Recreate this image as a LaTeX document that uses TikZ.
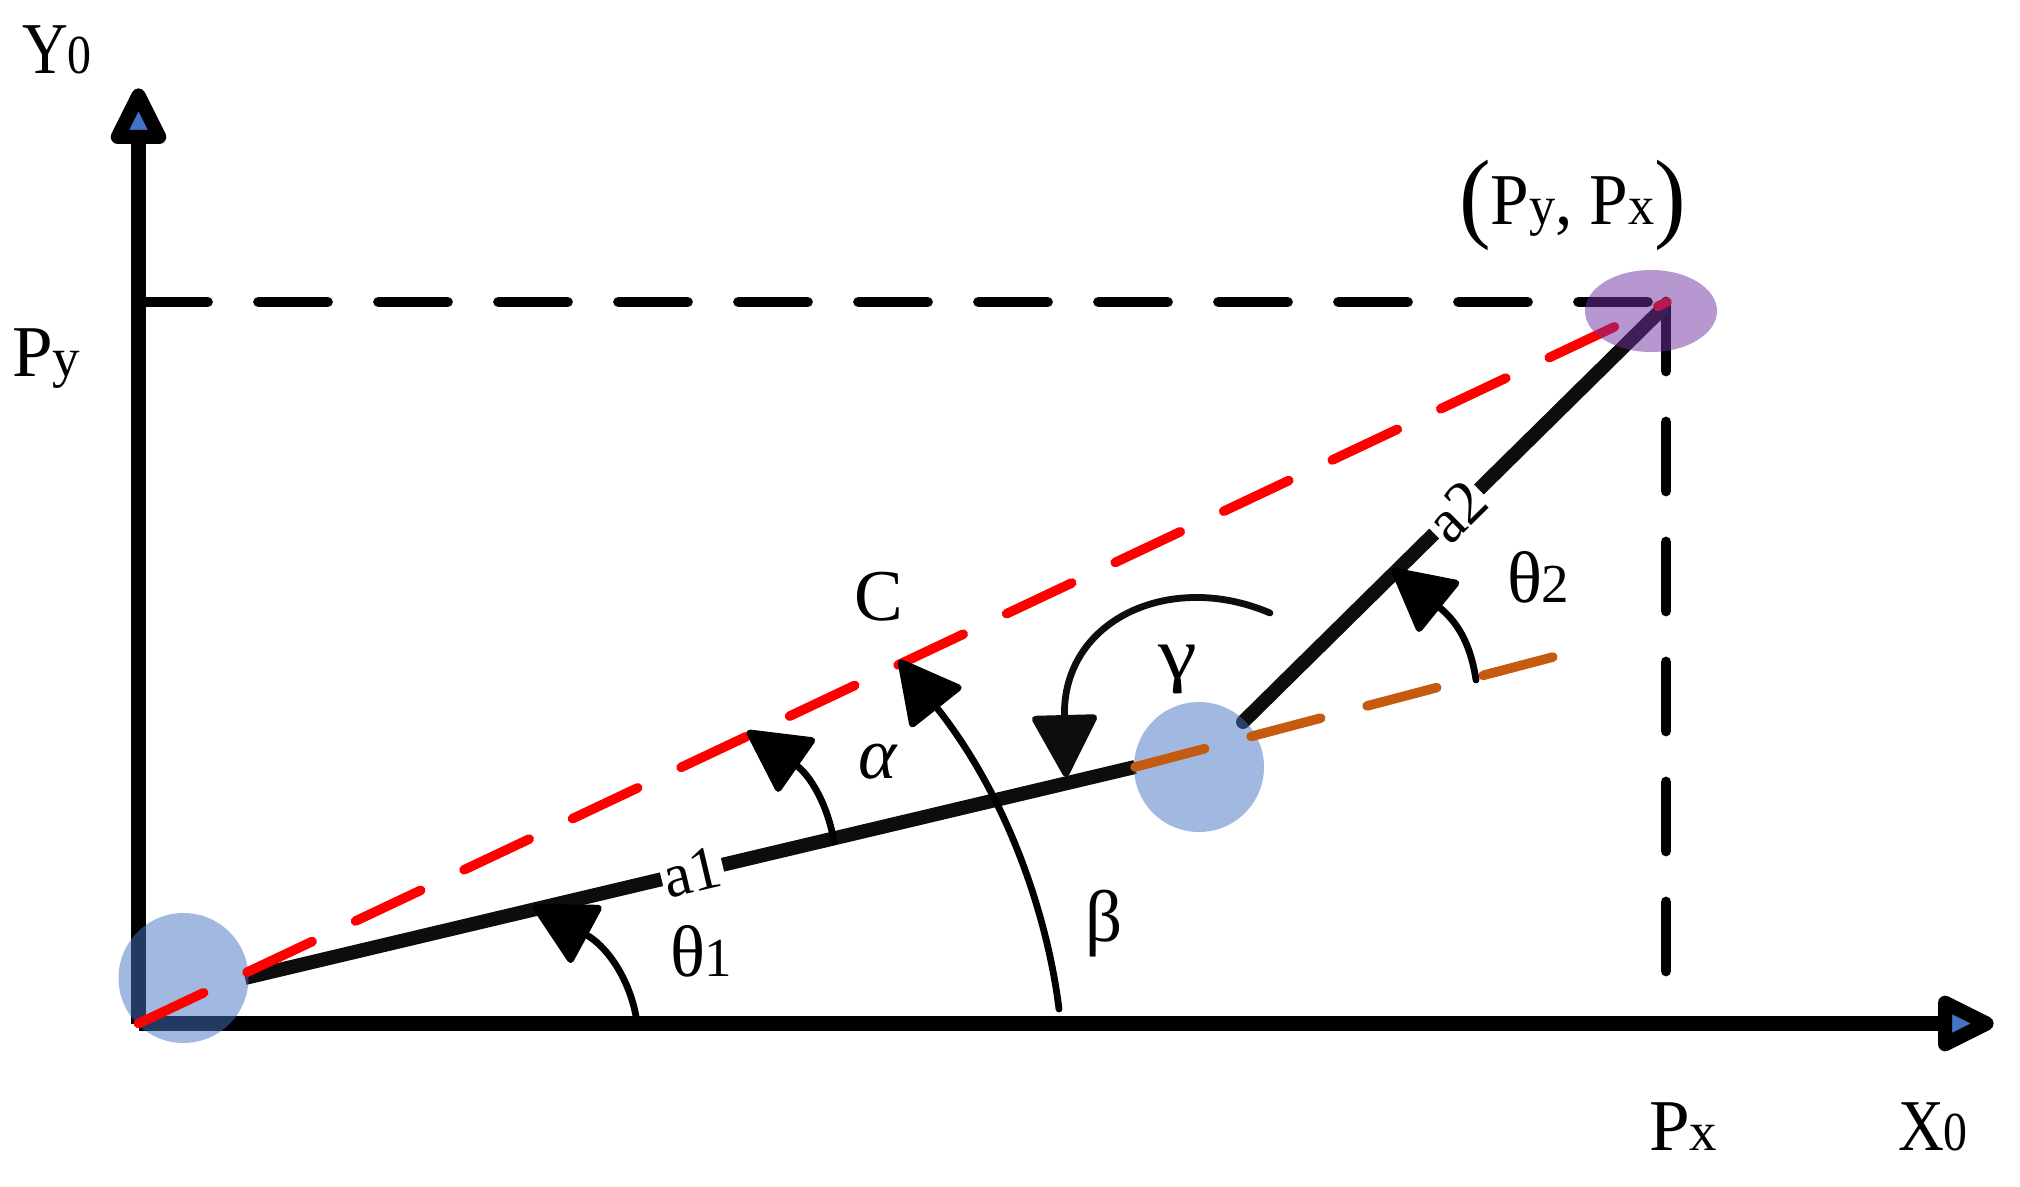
\documentclass[tikz,border=0pt]{standalone}
\usepackage{fontspec}
\setmainfont{Liberation Serif}
\newfontfamily\narrowfam[FakeStretch=0.87]{Liberation Serif}
\newfontfamily\pairfam[FakeStretch=0.95]{Liberation Serif}
\newfontfamily\widefam[FakeStretch=1.2]{Liberation Serif}
\usetikzlibrary{arrows}
\usetikzlibrary{arrows.meta}
\definecolor{jointblue}{HTML}{4472C4}
\definecolor{jointpurple}{HTML}{7030A0}
\definecolor{armblack}{HTML}{0D0D0D}
\definecolor{elbowline}{HTML}{C55A11}
\newcommand{\bigfont}{\fontsize{36.5}{40}\selectfont}
\newcommand{\smallfont}{\fontsize{27.5}{30}\selectfont}
\newcommand{\parenfont}{\fontsize{50}{50}\selectfont}
\newcommand{\lab}[2]{{\bigfont #1}{\smallfont #2}}
\tikzset{
  axisline/.style={line width=7.2pt,line cap=butt},
  axishead/.style={line width=7pt,fill=jointblue},
  arm/.style={line width=7pt,color=armblack},
  joint/.style={fill=jointblue,fill opacity=0.5},
  target/.style={fill=jointpurple,fill opacity=0.5},
  reachline/.style={line width=4.8pt,color=red,dash pattern=on 36pt off 24pt},
  elbowdash/.style={line width=4.8pt,color=elbowline,dash pattern=on 36pt off 24pt},
  guide/.style={line width=5.4pt,color=black,dash pattern=on 34.5pt off 25.5pt},
  anglearc/.style={line width=3.4pt,color=black,-{Triangle[length=33pt,width=34pt,round]}},
  lbl/.style={anchor=base west,inner sep=0pt,outer sep=0pt},
  armlbl/.style={fill=white,inner sep=1pt,font=\fontsize{31}{32}\selectfont}
}
\begin{document}
\begin{tikzpicture}[line cap=round,line join=round,>={Stealth},x=0.5pt,y=-0.5pt]
\useasboundingbox (0,0) rectangle (2020,1187);
\coordinate (O) at (138.5,1023.5);
\coordinate (Ytop) at (138.5,137);
\coordinate (Xtip) at (1945,1023.5);
\coordinate (shoulderEnd) at (245,978);
\coordinate (elbowStart) at (1135,767);
\coordinate (wristStart) at (1243,722);
\coordinate (P) at (1661,310);
\coordinate (Pcorner) at (1666,302);
\coordinate (Pleft) at (138.5,302);
\coordinate (Pfoot) at (1666,975);
\coordinate (elbowEnd) at (1553,657);
\coordinate (reachEnd) at (1667,302);
\coordinate (shoulder) at (183.5,978);
\coordinate (elbow) at (1199,767);
\coordinate (target) at (1651,311);
\draw [guide] (Pleft)-- (Pcorner);
\draw [guide] (Pcorner)-- (Pfoot);
\draw [axisline] (O)-- (Ytop);
\draw [axisline] (O)-- (Xtip);
\draw [axishead] (138.5,95.4)-- (159.3,137)-- (117.7,137)-- cycle;
\draw [axishead] (1986.6,1023.5)-- (1945,1002.7)-- (1945,1044.3)-- cycle;
\draw [arm,line cap=butt] (shoulderEnd)-- (elbowStart);
\draw [arm] (wristStart)-- (P);
\fill [joint] (shoulder) circle (65);
\fill [joint] (elbow) circle (65);
\draw [reachline] (O)-- (reachEnd);
\draw [elbowdash] (elbowStart)-- (elbowEnd);
\fill [target] (target) ellipse (66 and 41);
\node [armlbl,rotate=13.3] (a1) at (692,872) {a1};
\node [armlbl,rotate=44.6] (a2) at (1457,512) {a2};
\draw [anglearc] (636,1016) .. controls (628,975) and (605,945) .. (533,906);
\draw [anglearc] (834,842) .. controls (828,805) and (810,775) .. (747,731);
\draw [anglearc] (1059,1009) .. controls (1048,920) and (1010,800) .. (899,660);
\draw [anglearc] (1476,680) .. controls (1470,640) and (1455,620) .. (1392,569);
\draw [anglearc,color=armblack] (1270,613) .. controls (1170,570) and (1062,620) .. (1066,777);
\node [lbl] (Y0) at (22,74) {\narrowfam\lab{Y}{0}};
\node [lbl] (Py) at (12,377) {\lab{P}{y}};
\node [lbl] (th1) at (670,976) {\lab{θ}{1}};
\node [lbl] (th2) at (1507,603) {\lab{θ}{2}};
\node [lbl] (alpha) at (858,778) {\bigfont\itshape α};
\node [lbl] (beta) at (1085,941) {\bigfont β};
\node [lbl] (gamma) at (1158,678) {\widefam\bigfont γ};
\node [lbl] (C) at (854,620) {\bigfont C};
\node [lbl] (Px) at (1649,1150) {\lab{P}{x}};
\node [lbl] (X0) at (1898,1150) {\narrowfam\lab{X}{0}};
\node [lbl] (Pxy) at (1459,225) {\pairfam\raisebox{-2.5pt}{\parenfont(}\lab{P}{y}{\bigfont, }\lab{P}{x}\raisebox{-2.5pt}{\parenfont)}};
\end{tikzpicture}
\end{document}
